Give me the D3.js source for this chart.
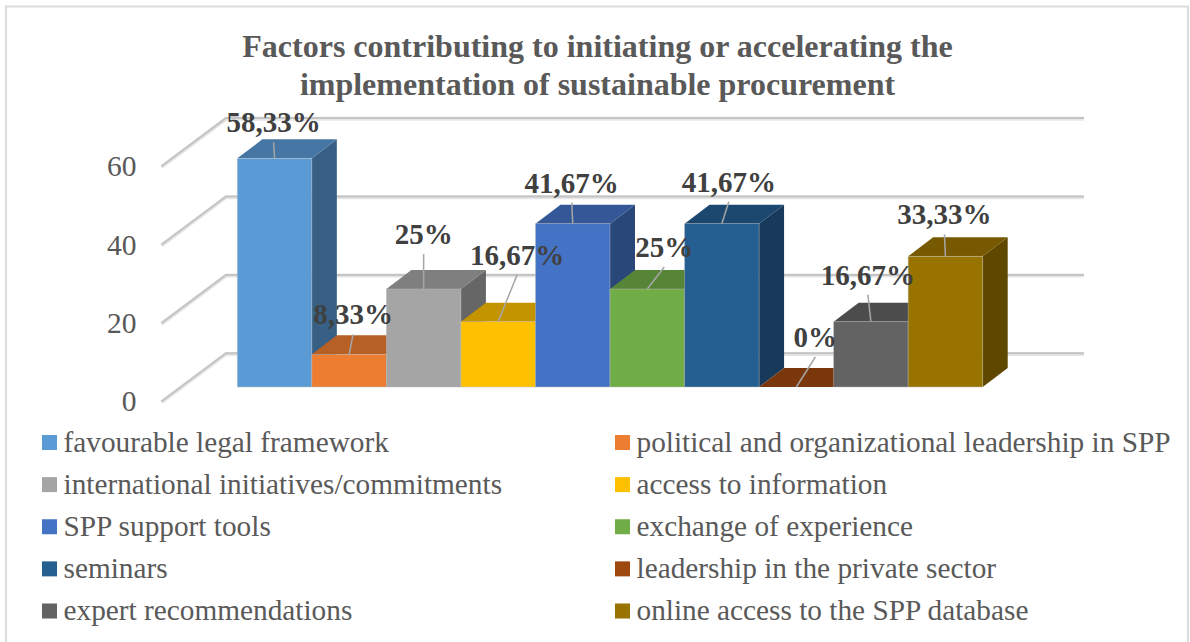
<!DOCTYPE html>
<html><head><meta charset="utf-8">
<script src="https://cdn.jsdelivr.net/npm/d3@7/dist/d3.min.js"></script>
<style>html,body{margin:0;padding:0;background:#fff;overflow:hidden}svg{display:block}text{font-family:"Liberation Serif",serif}</style>
</head><body><svg id="c" width="1190" height="642"></svg>
<script>
const categories=["favourable legal framework","political and organizational leadership in SPP","international initiatives/commitments","access to information","SPP support tools","exchange of experience","seminars","leadership in the private sector","expert recommendations","online access to the SPP database"];
const values=[58.33,8.33,25,16.67,41.67,25,41.67,0,16.67,33.33];
const valueLabels=["58,33%","8,33%","25%","16,67%","41,67%","25%","41,67%","0%","16,67%","33,33%"];
const colors=["#5b9bd5","#ed7d31","#a5a5a5","#ffc000","#4472c4","#70ad47","#255e91","#9e480e","#636363","#997300"];
const tickValues=[0,20,40,60];
const titleLines=["Factors contributing to initiating or accelerating the","implementation of sustainable procurement"];
// manual data-label placement (offset from front-top centre of each bar)
const labelDX=[-1,4,0,19,-1,17,7,19,-3,-1];
const labelDY=[-26,-30,-45,-57,-31,-32,-32,-40,-37,-32];
const leaderEndDY=[-16,-20,-35,-47,-21,-22,-22,-30,-27,-22];

const svg=d3.select("#c");
svg.append("rect").attr("x",6).attr("y",6.5).attr("width",1182).attr("height",660).attr("fill","#fff").attr("stroke","#dcdcdc").attr("stroke-width",2);

const x=d3.scaleBand().domain(d3.range(categories.length)).range([237.3,982.7]);
const yBar=d3.scaleLinear().domain([0,60]).range([387,151.8]);
const yFloorFront=d3.scaleLinear().domain([0,60]).range([401.5,166.3]);
const yBack=d3.scaleLinear().domain([0,60]).range([353.3,118.1]);
const depthX=25,depthY=-19,wallLeft=161.5,wallBack=226,wallRight=1084;

// title
svg.append("g").selectAll("text").data(titleLines).join("text")
 .attr("x",597.5).attr("y",(d,i)=>57+i*37.5).attr("text-anchor","middle")
 .attr("font-size",32).attr("font-weight","bold").attr("fill","#595959").text(d=>d);

// gridlines
const gridPath=v=>`M${wallLeft},${yFloorFront(v)}L${wallBack},${yBack(v)}L${wallRight},${yBack(v)}`;
const grid=svg.append("g").attr("fill","none");
grid.selectAll(".s").data(tickValues).join("path").attr("class","s").attr("d",gridPath).attr("stroke","#e6e6e6").attr("stroke-width",4).attr("transform","translate(0,0.7)");
grid.selectAll(".m").data(tickValues).join("path").attr("class","m").attr("d",gridPath).attr("stroke","#c4c4c4").attr("stroke-width",2);

// axis
const axis=svg.append("g").attr("transform","translate(136.5,0)").call(d3.axisLeft(yFloorFront).tickValues(tickValues).tickSize(0).tickPadding(0));
axis.select(".domain").remove();
axis.selectAll("text").attr("font-size",29.5).attr("fill","#595959").attr("font-family","Liberation Serif").attr("dy","0.32em");

const shade=(c,k)=>{const r=d3.rgb(c);return d3.rgb(r.r*k,r.g*k,r.b*k).formatHex();};

// bars
const bars=svg.append("g").selectAll("g").data(values).join("g");
bars.each(function(v,i){
  const g=d3.select(this),x0=x(i),x1=x0+x.bandwidth(),yt=yBar(v),yb=yBar(0);
  const pts=a=>a.map(p=>p.join(",")).join(" ");
  if(v>0) g.append("polygon").attr("points",pts([[x1,yt],[x1+depthX,yt+depthY],[x1+depthX,yb+depthY],[x1,yb]])).attr("fill",shade(colors[i],0.62));
  g.append("polygon").attr("points",pts([[x0,yt],[x0+depthX,yt+depthY],[x1+depthX,yt+depthY],[x1,yt]])).attr("fill",shade(colors[i],0.77));
  if(v>0) g.append("rect").attr("x",x0).attr("y",yt).attr("width",x.bandwidth()).attr("height",yb-yt).attr("fill",colors[i]).attr("stroke","#bdbdbd").attr("stroke-opacity",0.55).attr("stroke-width",0.8);
});

// leaders and labels
const cx=i=>x(i)+x.bandwidth()/2;
svg.append("g").selectAll("line").data(values).join("line")
 .attr("x1",(v,i)=>cx(i)).attr("y1",v=>yBar(v))
 .attr("x2",(v,i)=>cx(i)+labelDX[i]).attr("y2",(v,i)=>yBar(v)+leaderEndDY[i])
 .attr("stroke","#a6a6a6").attr("stroke-width",1.5);
svg.append("g").selectAll("text").data(values).join("text")
 .attr("x",(v,i)=>cx(i)+labelDX[i]).attr("y",(v,i)=>yBar(v)+labelDY[i]).attr("text-anchor","middle")
 .attr("font-size",29).attr("font-weight","bold").attr("fill","#404040").text((v,i)=>valueLabels[i]);

// legend
const legendCol=d3.scaleOrdinal().domain([0,1]).range([42,615]);
const legendRow=d3.scalePoint().domain(d3.range(5)).range([442.5,611]);
const items=svg.append("g").selectAll("g").data(categories).join("g")
 .attr("transform",(d,i)=>`translate(${legendCol(i%2)},${legendRow(Math.floor(i/2))})`);
items.append("rect").attr("x",0).attr("y",-7.5).attr("width",15).attr("height",15).attr("fill",(d,i)=>colors[i]);
items.append("text").attr("x",21.5).attr("y",9.3).attr("font-size",29.3).attr("fill","#595959").text(d=>d);
</script></body></html>
